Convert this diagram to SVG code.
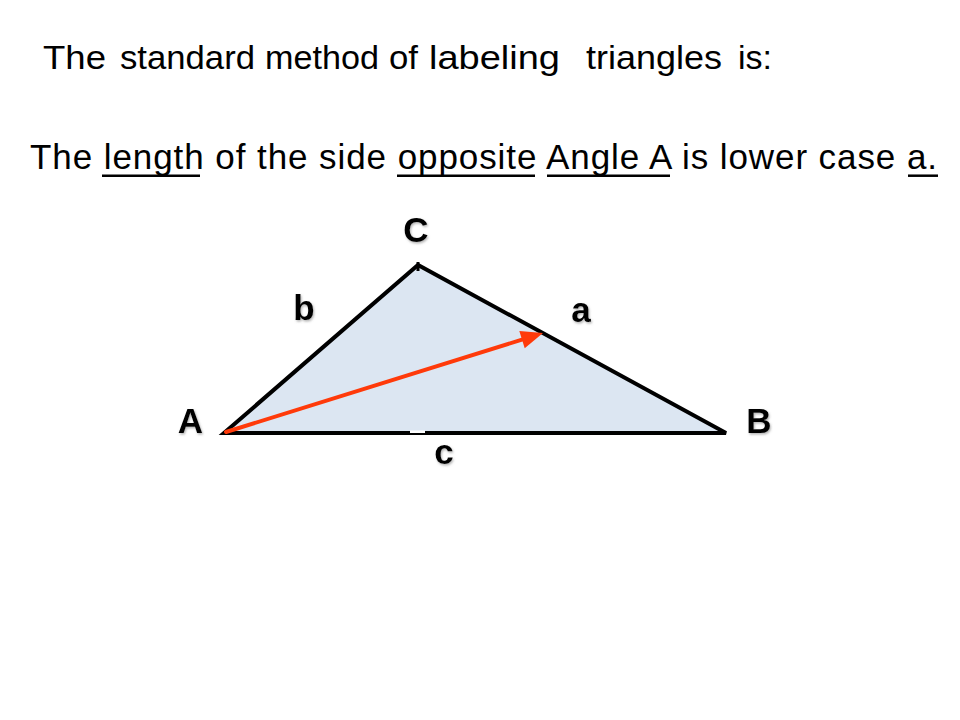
<svg xmlns="http://www.w3.org/2000/svg" width="960" height="720" viewBox="0 0 960 720">
  <style>
    .body { font-family: "Liberation Sans", Arial, sans-serif; fill: #000; }
    .t1 { font-size: 33px; }
    .lbl { font-family: "Liberation Sans", Arial, sans-serif; font-weight: bold; font-size: 35px; fill: #000; text-anchor: middle; filter: url(#shadow); }
    .ul { stroke: #000; stroke-width: 2.5; }
  </style>
  <defs>
    <filter id="shadow" x="-20%" y="-20%" width="140%" height="140%">
      <feDropShadow dx="1" dy="1.5" stdDeviation="1" flood-color="#666" flood-opacity="0.5"/>
    </filter>
  </defs>
  <rect width="960" height="720" fill="#fff"/>

  <g id="title">
    <text class="body t1" x="43" y="68.5" textLength="63" lengthAdjust="spacingAndGlyphs">The</text>
    <text class="body t1" x="120" y="68.5" textLength="135" lengthAdjust="spacingAndGlyphs">standard</text>
    <text class="body t1" x="265" y="68.5" textLength="114" lengthAdjust="spacingAndGlyphs">method</text>
    <text class="body t1" x="389" y="68.5" textLength="29" lengthAdjust="spacingAndGlyphs">of</text>
    <text class="body t1" x="429" y="68.5" textLength="131" lengthAdjust="spacingAndGlyphs">labeling</text>
    <text class="body t1" x="586" y="68.5" textLength="136" lengthAdjust="spacingAndGlyphs">triangles</text>
    <text class="body t1" x="738" y="68.5" textLength="34" lengthAdjust="spacingAndGlyphs">is:</text>
  </g>

  <g id="statement">
    <text class="body" x="30" y="169" font-size="35" textLength="907" lengthAdjust="spacing">The length of the side opposite Angle A is lower case a.</text>
    <line class="ul" x1="102" y1="175.7" x2="200" y2="175.7"/>
    <line class="ul" x1="397" y1="175.7" x2="535" y2="175.7"/>
    <line class="ul" x1="547" y1="175.7" x2="670" y2="175.7"/>
    <line class="ul" x1="908" y1="175.7" x2="938" y2="175.7"/>
  </g>

  <g id="triangle">
    <polygon points="224,433 418,265 726,433" fill="#dce6f2" stroke="#000" stroke-width="4" stroke-linejoin="miter"/>
    <line x1="418" y1="262" x2="418" y2="271" stroke="#000" stroke-width="3"/>
    <rect x="410" y="430.5" width="15" height="2.5" fill="#fff"/>
  </g>

  <g id="connectors">
    <line x1="226" y1="432" x2="522" y2="339.6" stroke="#ff3a0a" stroke-width="4" stroke-linecap="round"/>
    <polygon points="543,333 524.7,348.2 519.3,331.0" fill="#ff3a0a"/>
  </g>

  <g id="vertex-A"><text class="lbl" x="190.5" y="433">A</text></g>
  <g id="vertex-B"><text class="lbl" x="759" y="433">B</text></g>
  <g id="vertex-C"><text class="lbl" x="416" y="242">C</text></g>
  <g id="side-a"><text class="lbl" x="581" y="322">a</text></g>
  <g id="side-b"><text class="lbl" x="304" y="320">b</text></g>
  <g id="side-c"><text class="lbl" x="444" y="464">c</text></g>
</svg>
